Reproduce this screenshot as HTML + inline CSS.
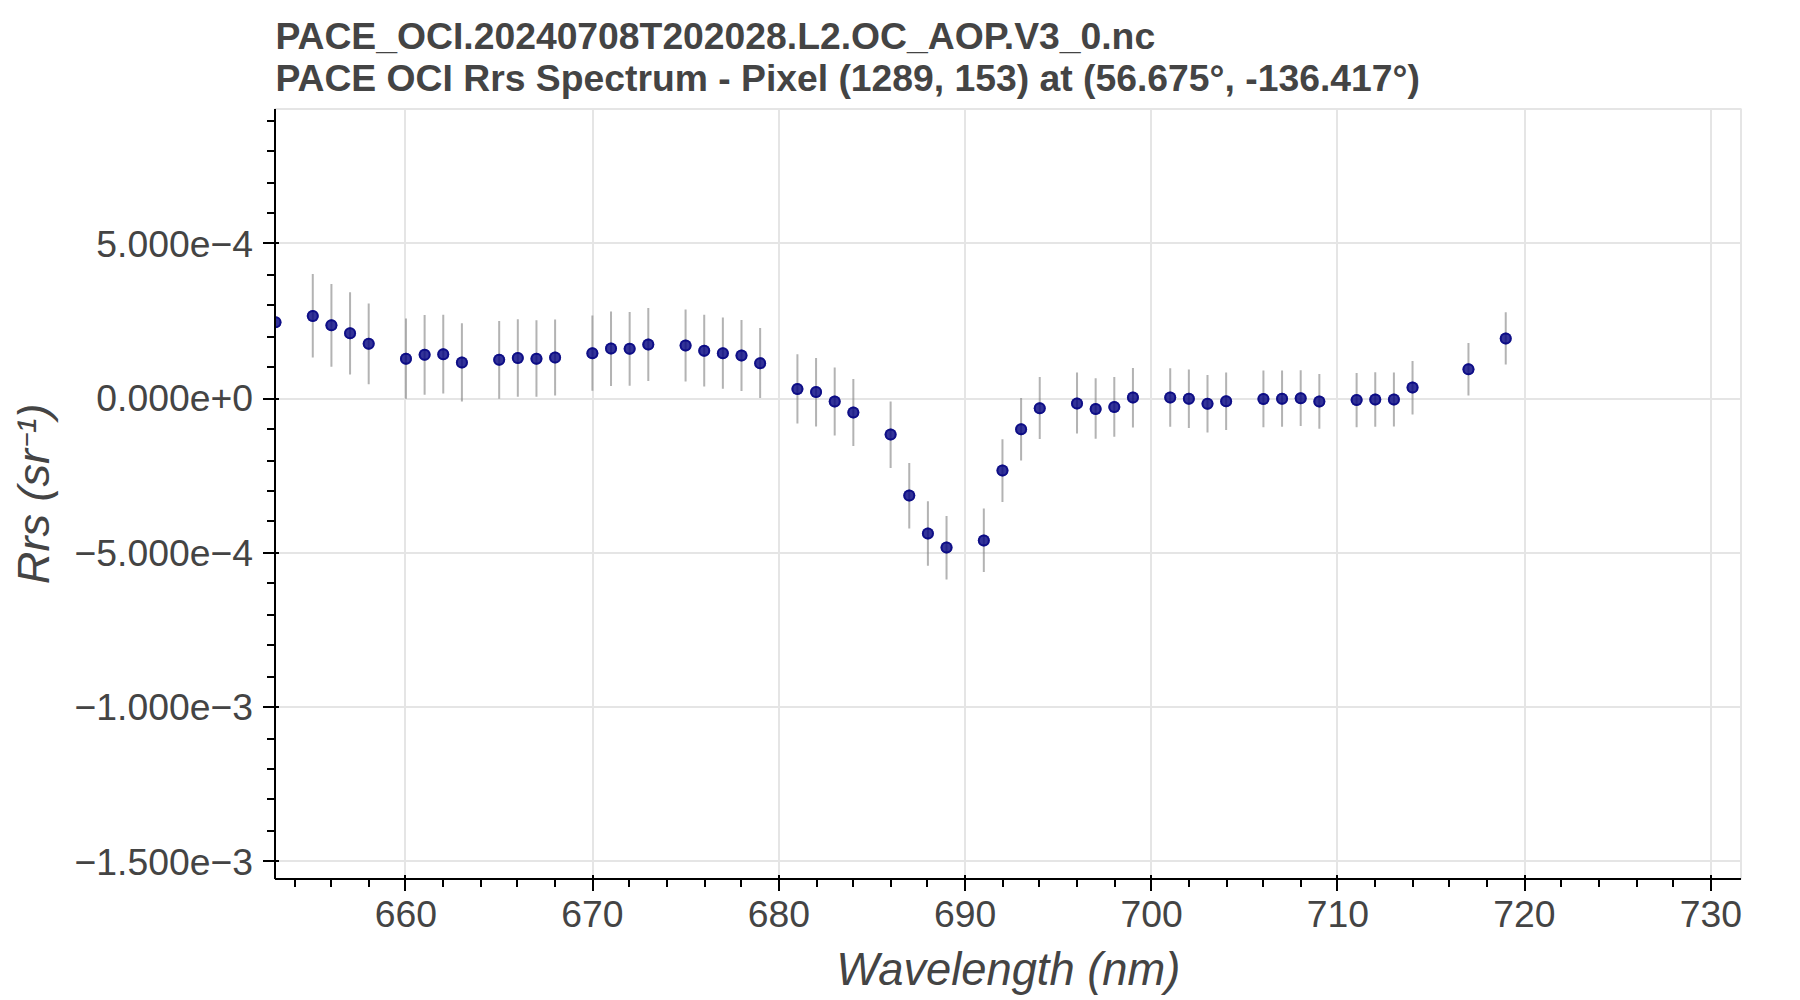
<!DOCTYPE html>
<html lang="en"><head><meta charset="utf-8"><title>PACE OCI Rrs Spectrum</title>
<style>html,body{margin:0;padding:0;background:#fff;overflow:hidden}svg{display:block}text{font-family:"Liberation Sans",Helvetica,Arial,sans-serif;fill:#444}.f{fill:rgba(0,0,128,.8)}.s{fill:none;stroke:rgba(0,0,128,.7);stroke-width:2}.t{font-weight:bold;font-size:37.3px}.k{font-size:37.33px}.a{font-size:45.3px;font-style:italic}</style></head><body>
<svg width="1800" height="1000" viewBox="0 0 1800 1000">
<rect width="1800" height="1000" fill="#fff"/>
<clipPath id="c"><rect x="274" y="108" width="1468" height="772"/></clipPath>
<path d="M405 108V880M593 108V880M779 108V880M965 108V880M1151 108V880M1337 108V880M1525 108V880M1711 108V880M274 243H1742M274 399H1742M274 553H1742M274 707H1742M274 861H1742" stroke="#e5e5e5" stroke-width="2" fill="none"/>
<rect x="275" y="109" width="1466" height="770" fill="none" stroke="#e5e5e5" stroke-width="2" stroke-linejoin="bevel"/>
<g clip-path="url(#c)">
<path d="M312.78 274.0V357.6M331.42 284.1V366.7M350.06 292.2V374.5M368.70 303.4V384.3M405.98 318.4V398.8M424.62 315.0V394.8M443.26 314.8V393.6M461.90 323.2V401.6M499.18 321.0V398.8M517.82 319.2V396.8M536.46 320.2V396.8M555.10 319.4V395.6M592.38 315.4V390.8M611.02 311.6V386.0M629.66 312.0V385.8M648.30 308.0V381.0M685.58 309.4V381.6M704.22 314.8V386.6M722.86 317.6V388.8M741.50 320.1V391.0M760.14 328.0V398.0M797.42 354.2V423.4M816.06 358.0V426.4M834.70 367.4V435.4M853.34 379.0V446.0M890.62 401.4V467.9M909.26 463.1V528.4M927.90 501.2V565.8M946.54 516.0V579.6M983.82 508.6V572.0M1002.46 439.2V502.0M1021.10 398.0V460.4M1039.74 377.0V438.9M1077.02 372.6V433.6M1095.66 378.3V438.8M1114.30 377.0V436.8M1132.94 368.0V427.5M1170.22 368.2V426.7M1188.86 369.4V428.0M1207.50 375.0V432.6M1226.14 372.6V430.0M1263.42 370.4V427.2M1282.06 370.6V426.8M1300.70 370.2V426.0M1319.34 374.0V428.8M1356.62 373.0V427.2M1375.26 372.2V426.8M1393.90 372.6V426.4M1412.54 361.1V414.4M1468.46 343.0V395.6M1505.74 312.2V364.4" stroke="rgba(128,128,128,.6)" stroke-width="2" fill="none"/>
<circle class="f" cx="275.50" cy="322.2" r="6"/><circle class="s" cx="275.50" cy="322.2" r="5"/>
<circle class="f" cx="312.78" cy="316.0" r="6"/><circle class="s" cx="312.78" cy="316.0" r="5"/>
<circle class="f" cx="331.42" cy="325.3" r="6"/><circle class="s" cx="331.42" cy="325.3" r="5"/>
<circle class="f" cx="350.06" cy="333.3" r="6"/><circle class="s" cx="350.06" cy="333.3" r="5"/>
<circle class="f" cx="368.70" cy="343.8" r="6"/><circle class="s" cx="368.70" cy="343.8" r="5"/>
<circle class="f" cx="405.98" cy="358.8" r="6"/><circle class="s" cx="405.98" cy="358.8" r="5"/>
<circle class="f" cx="424.62" cy="354.8" r="6"/><circle class="s" cx="424.62" cy="354.8" r="5"/>
<circle class="f" cx="443.26" cy="354.2" r="6"/><circle class="s" cx="443.26" cy="354.2" r="5"/>
<circle class="f" cx="461.90" cy="362.6" r="6"/><circle class="s" cx="461.90" cy="362.6" r="5"/>
<circle class="f" cx="499.18" cy="359.8" r="6"/><circle class="s" cx="499.18" cy="359.8" r="5"/>
<circle class="f" cx="517.82" cy="358.0" r="6"/><circle class="s" cx="517.82" cy="358.0" r="5"/>
<circle class="f" cx="536.46" cy="358.8" r="6"/><circle class="s" cx="536.46" cy="358.8" r="5"/>
<circle class="f" cx="555.10" cy="357.6" r="6"/><circle class="s" cx="555.10" cy="357.6" r="5"/>
<circle class="f" cx="592.38" cy="353.2" r="6"/><circle class="s" cx="592.38" cy="353.2" r="5"/>
<circle class="f" cx="611.02" cy="348.6" r="6"/><circle class="s" cx="611.02" cy="348.6" r="5"/>
<circle class="f" cx="629.66" cy="348.8" r="6"/><circle class="s" cx="629.66" cy="348.8" r="5"/>
<circle class="f" cx="648.30" cy="344.4" r="6"/><circle class="s" cx="648.30" cy="344.4" r="5"/>
<circle class="f" cx="685.58" cy="345.6" r="6"/><circle class="s" cx="685.58" cy="345.6" r="5"/>
<circle class="f" cx="704.22" cy="350.8" r="6"/><circle class="s" cx="704.22" cy="350.8" r="5"/>
<circle class="f" cx="722.86" cy="353.2" r="6"/><circle class="s" cx="722.86" cy="353.2" r="5"/>
<circle class="f" cx="741.50" cy="355.6" r="6"/><circle class="s" cx="741.50" cy="355.6" r="5"/>
<circle class="f" cx="760.14" cy="363.2" r="6"/><circle class="s" cx="760.14" cy="363.2" r="5"/>
<circle class="f" cx="797.42" cy="389.0" r="6"/><circle class="s" cx="797.42" cy="389.0" r="5"/>
<circle class="f" cx="816.06" cy="392.0" r="6"/><circle class="s" cx="816.06" cy="392.0" r="5"/>
<circle class="f" cx="834.70" cy="401.4" r="6"/><circle class="s" cx="834.70" cy="401.4" r="5"/>
<circle class="f" cx="853.34" cy="412.6" r="6"/><circle class="s" cx="853.34" cy="412.6" r="5"/>
<circle class="f" cx="890.62" cy="434.6" r="6"/><circle class="s" cx="890.62" cy="434.6" r="5"/>
<circle class="f" cx="909.26" cy="495.5" r="6"/><circle class="s" cx="909.26" cy="495.5" r="5"/>
<circle class="f" cx="927.90" cy="533.6" r="6"/><circle class="s" cx="927.90" cy="533.6" r="5"/>
<circle class="f" cx="946.54" cy="547.6" r="6"/><circle class="s" cx="946.54" cy="547.6" r="5"/>
<circle class="f" cx="983.82" cy="540.4" r="6"/><circle class="s" cx="983.82" cy="540.4" r="5"/>
<circle class="f" cx="1002.46" cy="470.5" r="6"/><circle class="s" cx="1002.46" cy="470.5" r="5"/>
<circle class="f" cx="1021.10" cy="429.2" r="6"/><circle class="s" cx="1021.10" cy="429.2" r="5"/>
<circle class="f" cx="1039.74" cy="408.2" r="6"/><circle class="s" cx="1039.74" cy="408.2" r="5"/>
<circle class="f" cx="1077.02" cy="403.4" r="6"/><circle class="s" cx="1077.02" cy="403.4" r="5"/>
<circle class="f" cx="1095.66" cy="409.0" r="6"/><circle class="s" cx="1095.66" cy="409.0" r="5"/>
<circle class="f" cx="1114.30" cy="407.0" r="6"/><circle class="s" cx="1114.30" cy="407.0" r="5"/>
<circle class="f" cx="1132.94" cy="397.6" r="6"/><circle class="s" cx="1132.94" cy="397.6" r="5"/>
<circle class="f" cx="1170.22" cy="397.6" r="6"/><circle class="s" cx="1170.22" cy="397.6" r="5"/>
<circle class="f" cx="1188.86" cy="398.8" r="6"/><circle class="s" cx="1188.86" cy="398.8" r="5"/>
<circle class="f" cx="1207.50" cy="403.8" r="6"/><circle class="s" cx="1207.50" cy="403.8" r="5"/>
<circle class="f" cx="1226.14" cy="401.2" r="6"/><circle class="s" cx="1226.14" cy="401.2" r="5"/>
<circle class="f" cx="1263.42" cy="399.0" r="6"/><circle class="s" cx="1263.42" cy="399.0" r="5"/>
<circle class="f" cx="1282.06" cy="398.8" r="6"/><circle class="s" cx="1282.06" cy="398.8" r="5"/>
<circle class="f" cx="1300.70" cy="398.2" r="6"/><circle class="s" cx="1300.70" cy="398.2" r="5"/>
<circle class="f" cx="1319.34" cy="401.4" r="6"/><circle class="s" cx="1319.34" cy="401.4" r="5"/>
<circle class="f" cx="1356.62" cy="400.0" r="6"/><circle class="s" cx="1356.62" cy="400.0" r="5"/>
<circle class="f" cx="1375.26" cy="399.4" r="6"/><circle class="s" cx="1375.26" cy="399.4" r="5"/>
<circle class="f" cx="1393.90" cy="399.4" r="6"/><circle class="s" cx="1393.90" cy="399.4" r="5"/>
<circle class="f" cx="1412.54" cy="387.6" r="6"/><circle class="s" cx="1412.54" cy="387.6" r="5"/>
<circle class="f" cx="1468.46" cy="369.2" r="6"/><circle class="s" cx="1468.46" cy="369.2" r="5"/>
<circle class="f" cx="1505.74" cy="338.4" r="6"/><circle class="s" cx="1505.74" cy="338.4" r="5"/>
</g>
<path d="M275 109V879M275 879H1741M295 879V887M331 879V887M369 879V887M405 875V891M443 879V887M481 879V887M517 879V887M555 879V887M593 875V891M629 879V887M667 879V887M705 879V887M741 879V887M779 875V891M817 879V887M853 879V887M891 879V887M927 879V887M965 875V891M1003 879V887M1039 879V887M1077 879V887M1115 879V887M1151 875V891M1189 879V887M1227 879V887M1263 879V887M1301 879V887M1337 875V891M1375 879V887M1413 879V887M1449 879V887M1487 879V887M1525 875V891M1561 879V887M1599 879V887M1637 879V887M1673 879V887M1711 875V891M263 861H279M267 831H275M267 799H275M267 769H275M267 739H275M263 707H279M267 677H275M267 645H275M267 615H275M267 583H275M263 553H279M267 521H275M267 491H275M267 461H275M267 429H275M263 399H279M267 367H275M267 337H275M267 305H275M267 275H275M263 243H279M267 213H275M267 183H275M267 151H275M267 121H275" stroke="#000" stroke-width="2" fill="none"/>
<text class="k" x="405.98" y="927" text-anchor="middle">660</text>
<text class="k" x="592.38" y="927" text-anchor="middle">670</text>
<text class="k" x="778.78" y="927" text-anchor="middle">680</text>
<text class="k" x="965.18" y="927" text-anchor="middle">690</text>
<text class="k" x="1151.58" y="927" text-anchor="middle">700</text>
<text class="k" x="1337.98" y="927" text-anchor="middle">710</text>
<text class="k" x="1524.38" y="927" text-anchor="middle">720</text>
<text class="k" x="1710.78" y="927" text-anchor="middle">730</text>
<text class="k" x="253" y="256.90" text-anchor="end">5.000e−4</text>
<text class="k" x="253" y="411.32" text-anchor="end">0.000e+0</text>
<text class="k" x="253" y="565.74" text-anchor="end">−5.000e−4</text>
<text class="k" x="253" y="720.16" text-anchor="end">−1.000e−3</text>
<text class="k" x="253" y="874.58" text-anchor="end">−1.500e−3</text>
<text class="a" x="1008.3" y="984.8" text-anchor="middle">Wavelength (nm)</text>
<text class="a" transform="translate(48.9 493.8) rotate(-90) scale(.995 .98)" text-anchor="middle">Rrs (sr<tspan style="font-family:'DejaVu Sans',sans-serif;font-size:31.5px;font-weight:bold" dy="-6.4" dx="1.3">⁻</tspan><tspan dy="5.2" dx="-2.3">¹</tspan><tspan dy="1.2">)</tspan></text>
<text class="t" x="275.4" y="48.7">PACE_OCI.20240708T202028.L2.OC_AOP.V3_0.nc</text>
<text class="t" x="275.4" y="90.8">PACE OCI Rrs Spectrum - Pixel (1289, 153) at (56.675°, -136.417°)</text>
</svg></body></html>
